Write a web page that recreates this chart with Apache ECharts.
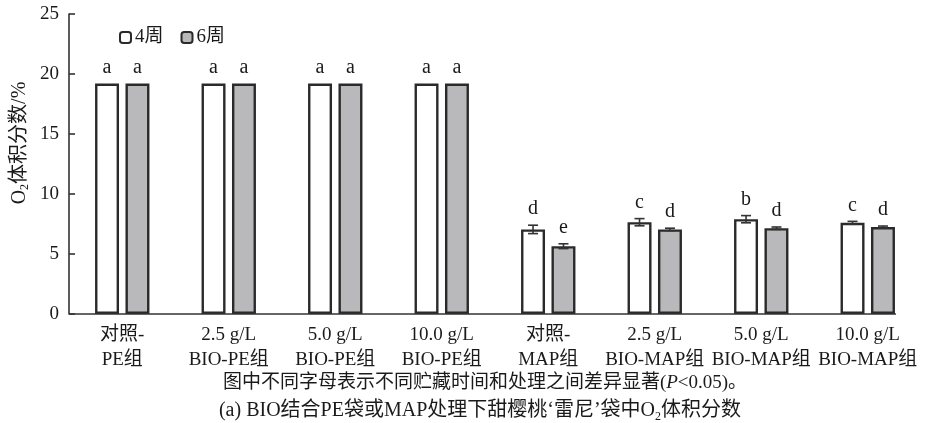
<!DOCTYPE html>
<html><head><meta charset="utf-8">
<script src="https://cdn.jsdelivr.net/npm/echarts@6/dist/echarts.min.js"></script>
<style>html,body{margin:0;padding:0;background:#fff}#c{width:931px;height:423px}</style>
</head><body><div id="c"></div>
<script>
var categories = ['对照-\nPE组','2.5 g/L\nBIO-PE组','5.0 g/L\nBIO-PE组','10.0 g/L\nBIO-PE组','对照-\nMAP组','2.5 g/L\nBIO-MAP组','5.0 g/L\nBIO-MAP组','10.0 g/L\nBIO-MAP组'];
var seriesNames = ['4周','6周'];
var week4 = [19.2,19.2,19.2,19.2,7.05,7.65,7.9,7.6];
var week6 = [19.2,19.2,19.2,19.2,5.65,7.05,7.15,7.25];
var err4 = [0,0,0,0,0.35,0.3,0.3,0.12];
var err6 = [0,0,0,0,0.2,0.1,0.1,0.08];
var letters4 = ['a','a','a','a','d','c','b','c'];
var letters6 = ['a','a','a','a','e','d','d','d'];
var yTicks = [0,5,10,15,20,25];

var FONT = '"Liberation Serif","Noto Sans CJK SC",serif';
var TXT = '#1a1a1a';
var BW = 0.225, BG = 0.27;

function errSeries(vals, errs, letters, side){
  var data = vals.map(function(v,i){return [i, v, errs[i], letters[i]];});
  return {
    type:'custom', z:5,
    data:data,
    renderItem:function(params, api){
      var i = api.value(0), v = api.value(1), e = api.value(2);
      var band = api.size([1,0])[0];
      var off = side * band*BW*(1+BG)/2;
      var c = api.coord([i, v]);
      var x = c[0]+off;
      var top = api.coord([i, v+e])[1];
      var bot = api.coord([i, v-e])[1];
      var children = [];
      var st = {stroke:'#333', lineWidth:1.6};
      if (e>0){
        children.push({type:'line', shape:{x1:x,y1:top,x2:x,y2:bot}, style:st});
        children.push({type:'line', shape:{x1:x-5,y1:top,x2:x+5,y2:top}, style:st});
        children.push({type:'line', shape:{x1:x-5,y1:bot,x2:x+5,y2:bot}, style:st});
      }
      children.push({type:'text', style:{text:letters[params.dataIndex], x:x, y:top-6, align:'center', verticalAlign:'bottom', font:'20px '+FONT, fill:TXT}});
      return {type:'group', children:children};
    }
  };
}

// x-axis baseline: from the plot's left edge to the right edge of the last bar
var baseSeries = {
  type:'custom', z:6, silent:true,
  data:[[categories.length-1, 0]],
  renderItem:function(params, api){
    var band = api.size([1,0])[0];
    var c = api.coord([api.value(0), 0]);
    var xr = c[0] + band*BW*(1+BG)/2 + band*BW/2 + 1;
    return {type:'line', shape:{x1:params.coordSys.x, y1:c[1], x2:xr, y2:c[1]}, style:{stroke:'#333', lineWidth:1.6}};
  }
};

var chart = echarts.init(document.getElementById('c'));
chart.setOption({
  animation:false,
  grid:{left:69, right:10, top:14, bottom:109},
  legend:{
    left:114, top:23, itemWidth:11, itemHeight:11, itemGap:17,
    data:seriesNames,
    textStyle:{fontFamily:FONT, fontSize:19, color:TXT, padding:[0,0,0,-1]}
  },
  xAxis:{
    type:'category', data:categories,
    axisLine:{show:false},
    axisTick:{show:false},
    axisLabel:{interval:0, fontFamily:FONT, fontSize:19, color:TXT, lineHeight:25, margin:9}
  },
  yAxis:{
    type:'value', min:0, max:25, interval:5,
    axisLine:{show:true, lineStyle:{color:'#333', width:1.6}},
    axisTick:{show:true, inside:true, length:6, lineStyle:{color:'#333', width:1.6}},
    splitLine:{show:false},
    axisLabel:{fontFamily:FONT, fontSize:19, color:TXT, margin:10,
      formatter:function(v){return yTicks.indexOf(v)>=0 ? String(v) : '';}}
  },
  series:[
    {name:seriesNames[0], type:'bar', data:week4, barWidth:(BW*100)+'%', barGap:(BG*100)+'%',
      itemStyle:{color:'#ffffff', borderColor:'#2a2a2a', borderWidth:2.4}},
    {name:seriesNames[1], type:'bar', data:week6, barWidth:(BW*100)+'%', barGap:(BG*100)+'%',
      itemStyle:{color:'#b9b9bb', borderColor:'#2a2a2a', borderWidth:2.4}},
    errSeries(week4, err4, letters4, -1),
    errSeries(week6, err6, letters6, 1),
    baseSeries
  ],
  graphic:[
    {type:'text', x:20, y:143, rotation:Math.PI/2, style:{
      text:'{a|O}{s|2}{a|体积分数/%}', align:'center', verticalAlign:'middle',
      rich:{a:{font:'20px '+FONT, fill:TXT}, s:{font:'12px '+FONT, fill:TXT, padding:[10,0,0,0]}}
    }},
    {type:'text', x:485, y:383, style:{text:'图中不同字母表示不同贮藏时间和处理之间差异显著({i|P}<0.05)。', align:'center', verticalAlign:'middle',
      font:'19px '+FONT, fill:TXT, rich:{i:{font:'italic 19px '+FONT, fill:TXT}}}},
    {type:'text', x:480, y:411, style:{text:'(a) BIO结合PE袋或MAP处理下甜樱桃‘雷尼’袋中O{s|2}体积分数', align:'center', verticalAlign:'middle',
      font:'20px '+FONT, fill:TXT, rich:{s:{font:'12px '+FONT, fill:TXT, padding:[11,0,0,0]}}}}
  ]
});
</script></body></html>
